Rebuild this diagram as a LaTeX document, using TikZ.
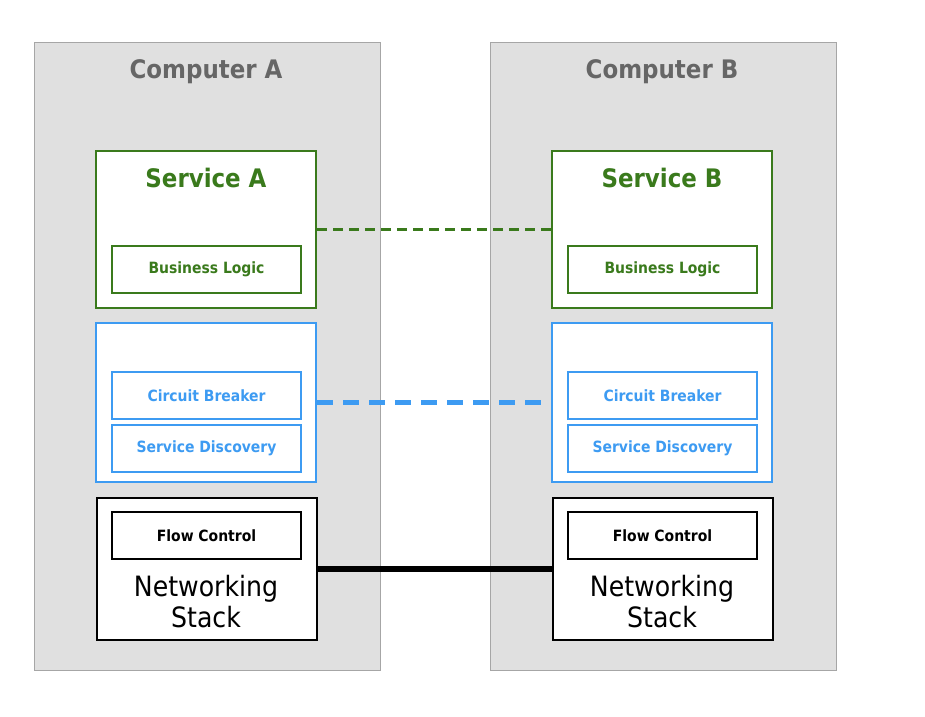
\documentclass[tikz,border=0pt]{standalone}
\usepackage{fontspec}
\setmainfont{DejaVu Sans Condensed}
\usepackage{tikz}
\usetikzlibrary{positioning}
\definecolor{cfill}{HTML}{E0E0E0}
\definecolor{cline}{HTML}{A6A6A6}
\definecolor{ctext}{HTML}{666666}
\definecolor{sgreen}{HTML}{3A7A1C}
\definecolor{sblue}{HTML}{3D9BF2}
\newcommand{\fs}[1]{\fontsize{#1}{#1}\selectfont}

\begin{document}
\begin{tikzpicture}[x=1pt,y=-1pt,
  comp/.style={draw=cline,fill=cfill,line width=1pt,minimum width=346pt,minimum height=628pt},
  svc/.style={draw=sgreen,fill=white,line width=2.8pt,minimum width=220pt,minimum height=157pt},
  mid/.style={draw=sblue,fill=white,line width=2.8pt,minimum width=220pt,minimum height=159pt},
  net/.style={draw=black,fill=white,line width=1.5pt,minimum width=220pt,minimum height=142pt},
  part/.style={draw=#1,fill=white,line width=1.2pt,minimum width=189pt,minimum height=47pt,
    text=#1,font=\bfseries\fs{15.5}},
  title/.style={anchor=base,text=#1,font=\bfseries\fs{25.5}}]
  \fill[white] (0,0) rectangle (925,716);
  \useasboundingbox (0,0) rectangle (925,716);
  \foreach \s/\x in {A/207,B/663} {
    \node[comp] (comp\s) at (\x,356) {};
    \node[title=ctext] (ctitle\s) at (\x-1,78) {Computer \s};
    \node[svc] (svc\s) at (\x-1,229.5) {};
    \node[title=sgreen] (stitle\s) at (\x-1,187) {Service \s};
    \node[part=sgreen] (logic\s) at (\x-0.5,269.5) {Business Logic};
    \node[mid] (mid\s) at (\x-1,402.5) {};
    \node[part=sblue] (cb\s) at (\x-0.5,395.5) {Circuit Breaker};
    \node[part=sblue] (sd\s) at (\x-0.5,448.5) {Service Discovery};
    \node[net] (net\s) at (\x,569) {};
    \node[part=black] (flow\s) at (\x-0.5,535.5) {Flow Control};
    \node[align=center,font=\fs{28},inner sep=0pt] (stack\s) at (\x-1,602) {Networking\\[3pt]Stack};
  }
  \draw[sgreen,line width=2.5pt,dash pattern=on 10pt off 6pt] (svcA) -- (svcB);
  \draw[sblue,line width=5pt,dash pattern=on 16pt off 10pt] (midA) -- (midB);
  \draw[black,line width=6pt] (netA) -- (netB);
\end{tikzpicture}
\end{document}
